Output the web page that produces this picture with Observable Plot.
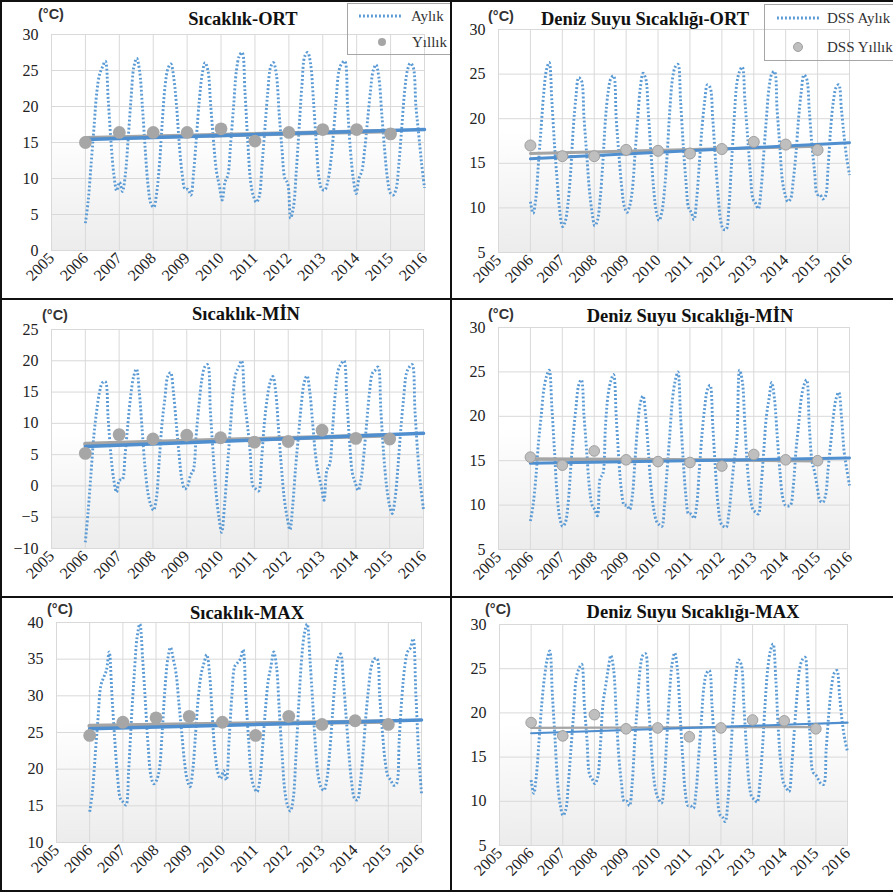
<!DOCTYPE html>
<html><head><meta charset="utf-8">
<script src="https://cdn.jsdelivr.net/npm/d3@7"></script>
<script src="https://cdn.jsdelivr.net/npm/@observablehq/plot@0.6"></script>
<style>
html,body{margin:0;padding:0;background:#fff;}
#root{position:relative;width:893px;height:894px;overflow:hidden;background:#fff;}
#root svg.panel{position:absolute;}
#overlay{position:absolute;left:0;top:0;pointer-events:none;}
</style></head><body><div id="root"></div>
<script>
// ---------------- DATA ----------------
const xTicks = [2005, 2006, 2007, 2008, 2009, 2010, 2011, 2012, 2013, 2014, 2015, 2016];
const years = [2006, 2007, 2008, 2009, 2010, 2011, 2012, 2013, 2014, 2015];
const trendStartEndMonthly = [2006, 2016];
const trendStartEndAnnual = [2006, 2015];

// Sıcaklık-ORT
const ortMonthly = [
  3.8, 7.0, 12.0, 17.0, 22.0, 24.5, 25.5, 26.3, 21.0, 15.0, 10.5, 8.3,
  9.5, 8.2, 10.5, 15.5, 21.0, 25.5, 26.7, 25.0, 20.0, 14.0, 9.0, 6.5,
  6.0, 8.0, 12.0, 18.0, 23.0, 25.3, 25.9, 24.0, 20.0, 14.5, 10.5, 8.5,
  8.5, 7.7, 11.0, 16.0, 21.0, 24.5, 26.1, 25.0, 20.0, 15.0, 11.0, 9.0,
  7.0, 9.5, 10.5, 15.0, 20.0, 25.0, 27.0, 27.5, 22.0, 15.0, 9.5, 7.5,
  6.7, 7.5, 12.0, 17.0, 22.0, 25.5, 26.1, 24.5, 19.0, 14.0, 10.0, 9.3,
  4.5, 6.0, 11.0, 17.0, 23.0, 27.0, 27.5, 26.0, 21.0, 15.0, 10.0, 8.5,
  8.4, 9.5, 12.0, 16.0, 21.0, 25.0, 26.0, 26.3, 20.0, 14.0, 10.0, 7.9,
  10.0, 11.0, 14.0, 18.0, 22.0, 25.0, 25.8, 24.0, 19.0, 14.0, 10.0, 8.0,
  7.7, 8.5, 12.0, 17.0, 22.0, 25.0, 26.0, 25.5, 20.0, 16.0, 12.0, 8.7
];
const ortAnnual = [15.0, 16.4, 16.4, 16.4, 16.9, 15.2, 16.4, 16.8, 16.8, 16.2];
const ortTrendMonthly = [15.4, 16.8];
const ortTrendAnnual = [15.6, 16.6];

// Deniz Suyu Sıcaklığı-ORT
const dssOrtMonthly = [
  10.7, 9.4, 11.0, 15.0, 19.0, 23.0, 25.5, 26.3, 22.0, 17.0, 13.0, 9.5,
  7.9, 8.5, 10.5, 14.0, 19.0, 22.5, 24.6, 24.3, 20.0, 16.0, 12.0, 9.5,
  8.0, 8.6, 11.0, 15.0, 20.0, 23.0, 24.5, 24.8, 20.0, 16.0, 12.5, 10.2,
  9.5, 10.2, 12.0, 16.0, 20.0, 23.5, 25.1, 24.5, 20.5, 16.0, 12.0, 9.5,
  8.6, 9.5, 12.0, 16.0, 21.0, 24.5, 25.8, 26.1, 22.0, 17.0, 13.0, 10.0,
  9.5, 8.7, 11.0, 15.0, 19.0, 22.0, 23.8, 23.5, 20.0, 15.5, 11.5, 8.5,
  7.6, 7.6, 10.0, 15.0, 20.0, 24.0, 25.3, 25.8, 22.0, 18.0, 14.0, 11.0,
  10.5, 9.9, 12.0, 16.0, 20.0, 23.5, 25.0, 25.3, 21.0, 17.0, 13.0, 11.5,
  10.7, 11.0, 13.0, 16.0, 20.0, 23.0, 24.9, 24.5, 21.0, 17.0, 14.0, 11.5,
  11.5, 11.0, 11.3, 14.5, 19.0, 22.0, 23.5, 23.8, 21.0, 18.0, 15.5, 13.7
];
const dssOrtAnnual = [17.0, 15.8, 15.8, 16.5, 16.4, 16.1, 16.6, 17.4, 17.1, 16.5];
const dssOrtTrendMonthly = [15.5, 17.3];
const dssOrtTrendAnnual = [16.1, 16.9];

// Sıcaklık-MİN
const minMonthly = [
  -9.0, -4.0, 2.0, 8.0, 12.0, 15.0, 16.5, 16.7, 11.0, 5.0, 1.0, -1.0,
  0.9, 1.0, 5.0, 10.0, 14.5, 17.5, 18.7, 15.0, 9.0, 3.0, -1.0, -3.0,
  -3.9, -2.0, 4.0, 10.0, 14.0, 17.5, 18.1, 15.0, 10.0, 5.0, 1.0, -0.5,
  0.0, 1.7, 2.5, 8.0, 13.0, 17.0, 19.0, 19.4, 12.0, 5.0, -1.0, -5.0,
  -7.4, -3.0, 3.0, 9.0, 15.0, 18.0, 19.0, 20.0, 14.0, 9.9, 5.5, 0.0,
  -0.5, -0.8, 4.0, 10.0, 14.0, 16.5, 17.5, 15.0, 9.0, 3.0, -2.0, -5.0,
  -7.0, -3.0, 3.0, 8.0, 13.0, 16.5, 17.6, 15.0, 10.0, 5.0, 2.0, 0.0,
  -2.3, 2.5, 3.5, 9.0, 15.0, 18.5, 19.5, 20.0, 14.0, 7.0, 2.0, 0.5,
  -0.7, 1.0, 5.0, 10.0, 15.0, 18.0, 18.5, 19.0, 12.0, 5.0, 0.0, -3.0,
  -4.4, -2.0, 3.0, 9.0, 14.0, 18.0, 19.0, 19.4, 12.0, 5.0, 0.0, -3.8
];
const minAnnual = [5.2, 8.2, 7.5, 8.1, 7.7, 7.0, 7.1, 8.9, 7.6, 7.5];
const minTrendMonthly = [6.3, 8.4];
const minTrendAnnual = [6.7, 8.1];

// Deniz Suyu Sıcaklığı-MİN
const dssMinMonthly = [
  8.2, 10.0, 13.0, 17.0, 20.0, 23.0, 24.5, 25.2, 21.0, 16.0, 11.0, 8.5,
  7.6, 8.0, 10.0, 14.0, 18.0, 21.0, 23.5, 24.1, 20.0, 16.0, 12.0, 10.0,
  9.5, 8.8, 13.0, 13.5, 19.0, 22.5, 24.0, 24.7, 20.0, 15.0, 11.5, 10.0,
  10.0, 9.5, 11.0, 15.0, 19.0, 21.5, 22.3, 20.0, 16.0, 12.0, 9.5, 8.2,
  7.8, 7.6, 10.0, 14.0, 18.0, 22.0, 24.0, 25.0, 20.0, 15.0, 11.0, 9.0,
  9.0, 8.5, 10.0, 14.0, 18.0, 21.0, 23.0, 23.5, 19.0, 14.0, 10.0, 8.0,
  7.6, 7.5, 9.0, 12.0, 15.0, 17.4, 25.2, 24.0, 19.0, 14.0, 11.0, 9.5,
  9.2, 9.0, 12.0, 16.0, 20.0, 22.0, 23.8, 22.0, 18.0, 14.0, 11.0, 10.0,
  9.9, 10.0, 12.0, 16.0, 19.0, 22.0, 23.5, 24.1, 19.0, 15.0, 13.7, 12.0,
  10.5, 10.3, 11.0, 14.0, 17.0, 20.0, 22.0, 22.7, 20.0, 16.0, 14.0, 12.2
];
const dssMinAnnual = [15.4, 14.5, 16.1, 15.1, 14.9, 14.8, 14.4, 15.7, 15.1, 15.0];
const dssMinTrendMonthly = [14.7, 15.3];
const dssMinTrendAnnual = [15.2, 15.0];

// Sıcaklık-MAX
const maxMonthly = [
  14.2, 17.0, 22.0, 27.0, 31.4, 32.5, 33.5, 36.0, 30.0, 24.0, 19.0, 16.0,
  15.5, 15.1, 20.0, 27.0, 33.0, 38.0, 39.8, 35.0, 29.0, 23.0, 19.0, 18.0,
  18.5, 20.0, 25.0, 31.0, 35.0, 36.6, 35.0, 33.0, 29.0, 25.0, 21.0, 18.5,
  17.6, 20.0, 25.0, 30.0, 33.0, 34.5, 35.6, 33.0, 27.0, 22.0, 19.5, 18.7,
  19.8, 18.5, 24.0, 30.0, 34.0, 34.5, 35.0, 36.3, 30.0, 24.0, 19.0, 17.5,
  16.9, 18.5, 23.0, 28.0, 32.0, 34.0, 36.0, 34.0, 28.0, 22.0, 17.0, 15.0,
  14.3, 16.0, 22.0, 29.0, 35.0, 38.5, 39.8, 35.0, 29.0, 23.0, 19.0, 17.5,
  17.1, 18.5, 22.0, 27.0, 32.0, 35.0, 35.7, 32.0, 27.0, 22.0, 18.0, 16.0,
  15.8, 18.0, 22.0, 27.0, 31.0, 34.0, 35.0, 35.1, 30.0, 25.0, 21.0, 19.0,
  18.5, 17.8, 18.0, 24.0, 30.0, 34.0, 36.0, 36.5, 37.8, 30.0, 22.0, 16.7
];
const maxAnnual = [24.6, 26.4, 27.0, 27.2, 26.4, 24.6, 27.2, 26.1, 26.6, 26.1];
const maxTrendMonthly = [25.5, 26.7];
const maxTrendAnnual = [25.9, 26.5];

// Deniz Suyu Sıcaklığı-MAX
const dssMaxMonthly = [
  12.4, 10.9, 13.0, 17.0, 21.0, 24.0, 26.0, 27.0, 22.0, 17.0, 12.0, 9.5,
  8.4, 9.0, 12.0, 16.0, 20.0, 24.0, 25.0, 25.5, 21.0, 17.0, 13.0, 12.5,
  12.0, 12.7, 16.0, 21.0, 23.0, 25.0, 26.5, 25.0, 20.0, 15.0, 12.0, 10.0,
  10.0, 9.5, 12.0, 17.0, 21.0, 25.0, 26.5, 26.7, 22.0, 17.0, 13.0, 11.0,
  10.2, 9.8, 12.0, 17.0, 22.0, 25.5, 26.8, 25.0, 20.0, 15.0, 11.0, 9.5,
  9.5, 9.2, 11.0, 15.0, 19.0, 23.0, 24.5, 24.8, 21.0, 16.0, 11.0, 8.5,
  8.2, 7.7, 10.0, 15.0, 20.0, 24.0, 26.0, 25.5, 21.0, 16.0, 12.0, 10.5,
  10.2, 9.9, 12.0, 16.0, 21.0, 25.0, 27.0, 27.8, 24.0, 18.0, 14.0, 12.0,
  11.5, 11.1, 13.9, 18.0, 22.0, 25.0, 26.0, 26.3, 22.0, 17.0, 13.3, 13.0,
  12.5, 12.0, 11.9, 16.0, 20.0, 23.0, 24.5, 24.8, 22.0, 19.0, 17.0, 15.6
];
const dssMaxAnnual = [18.9, 17.4, 19.8, 18.2, 18.3, 17.3, 18.3, 19.2, 19.1, 18.2];
const dssMaxTrendMonthly = [17.7, 18.9];
const dssMaxTrendAnnual = [18.3, 18.4];

const titles = ["Sıcaklık-ORT", "Deniz Suyu Sıcaklığı-ORT", "Sıcaklık-MİN", "Deniz Suyu Sıcaklığı-MİN", "Sıcaklık-MAX", "Deniz Suyu Sıcaklığı-MAX"];
const unitLabel = "(°C)";
const legendP1 = ["Aylık", "Yıllık"];
const legendP2 = ["DSS Aylık", "DSS Yıllık"];
const tempTicks = [0, 5, 10, 15, 20, 25, 30];
const seaTicks = [5, 10, 15, 20, 25, 30];
const minTicks = [-10, -5, 0, 5, 10, 15, 20, 25];
const maxTicks = [10, 15, 20, 25, 30, 35, 40];

// ---------------- LAYOUT ----------------
const BLUE_DOT = "#5b9bd5";
const BLUE_TREND = "#4f8fd0";
const GRAY = "#a5a5a5";
const DASH = "1.9,2.1";

const panels = [
  {monthly: ortMonthly, annual: ortAnnual, tm: ortTrendMonthly, ta: ortTrendAnnual, ticks: tempTicks,
   left: 0, top: 0, w: 450, h: 298, mt: 34, mr: 26, mb: 48, ml: 51, gw: 4.5, bw: 3.5, r: 6.4, dotFill: "#a6a6a6", dotStroke: "none"},
  {monthly: dssOrtMonthly, annual: dssOrtAnnual, tm: dssOrtTrendMonthly, ta: dssOrtTrendAnnual, ticks: seaTicks,
   left: 450, top: 0, w: 443, h: 298, mt: 29, mr: 44, mb: 46, ml: 48, gw: 3, bw: 3, r: 5.5, dotFill: "#bfbfbf", dotStroke: "#a0a0a0"},
  {monthly: minMonthly, annual: minAnnual, tm: minTrendMonthly, ta: minTrendAnnual, ticks: minTicks,
   left: 0, top: 298, w: 450, h: 298, mt: 31, mr: 27, mb: 48, ml: 51, gw: 4.5, bw: 3.5, r: 6.4, dotFill: "#a6a6a6", dotStroke: "none"},
  {monthly: dssMinMonthly, annual: dssMinAnnual, tm: dssMinTrendMonthly, ta: dssMinTrendAnnual, ticks: seaTicks,
   left: 450, top: 298, w: 443, h: 298, mt: 29, mr: 44, mb: 47, ml: 48, gw: 3.5, bw: 3, r: 5.3, dotFill: "#bfbfbf", dotStroke: "#a0a0a0"},
  {monthly: maxMonthly, annual: maxAnnual, tm: maxTrendMonthly, ta: maxTrendAnnual, ticks: maxTicks,
   left: 0, top: 596, w: 450, h: 298, mt: 26, mr: 29, mb: 52, ml: 56, gw: 4.5, bw: 3.5, r: 6.4, dotFill: "#a6a6a6", dotStroke: "none"},
  {monthly: dssMaxMonthly, annual: dssMaxAnnual, tm: dssMaxTrendMonthly, ta: dssMaxTrendAnnual, ticks: seaTicks,
   left: 450, top: 596, w: 443, h: 298, mt: 28, mr: 46, mb: 49, ml: 49, gw: 2.2, bw: 2.2, r: 5.3, dotFill: "#bfbfbf", dotStroke: "#a0a0a0"}
];

const root = document.getElementById("root");

panels.forEach((p, k) => {
  // monthly points: Jan 2006 at 2006, Dec 2015 at 2016
  const monthly = p.monthly.map((v, i) => ({x: 2006 + i * 10 / 119, y: v}));
  const annual = years.map((yr, i) => ({x: yr, y: p.annual[i]}));
  const tm = trendStartEndMonthly.map((x, i) => ({x, y: p.tm[i]}));
  const ta = trendStartEndAnnual.map((x, i) => ({x, y: p.ta[i]}));
  const gid = "bggrad" + k;
  const chart = Plot.plot({
    width: p.w, height: p.h,
    marginTop: p.mt, marginRight: p.mr, marginBottom: p.mb, marginLeft: p.ml,
    style: {fontFamily: '"Liberation Serif", "Times New Roman", serif', fontSize: "16px", color: "#222", background: "transparent", overflow: "visible"},
    x: {domain: [2005, 2016], ticks: xTicks, tickFormat: d => String(d), tickRotate: -45, tickSize: 0, tickPadding: 5, label: null},
    y: {domain: [p.ticks[0], p.ticks[p.ticks.length - 1]], ticks: p.ticks, tickSize: 0, tickPadding: 13, label: null},
    marks: [
      Plot.frame({fill: `url(#${gid})`}),
      Plot.gridX(xTicks, {stroke: "#d9d9d9", strokeOpacity: 1}),
      Plot.gridY(p.ticks, {stroke: "#d9d9d9", strokeOpacity: 1}),
      Plot.frame({stroke: "#d9d9d9"}),
      Plot.line(monthly, {x: "x", y: "y", curve: "catmull-rom", stroke: BLUE_DOT, strokeWidth: 2.9, strokeDasharray: DASH, strokeLinecap: "butt"}),
      Plot.line(ta, {x: "x", y: "y", stroke: GRAY, strokeWidth: p.gw}),
      Plot.line(tm, {x: "x", y: "y", stroke: BLUE_TREND, strokeWidth: p.bw}),
      Plot.dot(annual, {x: "x", y: "y", r: p.r, fill: p.dotFill, stroke: p.dotStroke, strokeWidth: 1})
    ]
  });
  chart.classList.add("panel");
  chart.style.left = p.left + "px";
  chart.style.top = p.top + "px";
  const defs = d3.select(chart).insert("defs", ":first-child");
  const g = defs.append("linearGradient").attr("id", gid).attr("x1", 0).attr("y1", 0).attr("x2", 0).attr("y2", 1);
  g.append("stop").attr("offset", "0%").attr("stop-color", "#ffffff");
  g.append("stop").attr("offset", "45%").attr("stop-color", "#ffffff");
  g.append("stop").attr("offset", "100%").attr("stop-color", "#ececec");
  root.appendChild(chart);
});

// ---------------- OVERLAY: titles, units, legends, borders ----------------
const ov = d3.select(root).append("svg").attr("id", "overlay").attr("width", 893).attr("height", 894);
const titlePos = [[243, 25], [645, 25], [246, 320], [690, 322], [247, 619], [693, 618]];
const unitPos = [[38, 19], [488, 21], [42, 320], [488, 319], [47, 614], [485, 614]];
titles.forEach((t, i) => {
  ov.append("text").attr("x", titlePos[i][0]).attr("y", titlePos[i][1]).attr("text-anchor", "middle")
    .attr("font-family", '"Liberation Serif", serif').attr("font-weight", "bold").attr("font-size", 18.5).attr("fill", "#111").text(t);
  ov.append("text").attr("x", unitPos[i][0]).attr("y", unitPos[i][1])
    .attr("font-family", '"Liberation Sans", Arial, sans-serif').attr("font-weight", "bold").attr("font-size", 14.5).attr("fill", "#333").text(unitLabel);
});

function legend(box, lineX, lineY, dotX, dotY, dotR, textX, tY1, tY2, labels, dFill, dStroke) {
  ov.append("rect").attr("x", box[0]).attr("y", box[1]).attr("width", box[2]).attr("height", box[3])
    .attr("fill", "none").attr("stroke", "#a6a6a6").attr("stroke-width", 1);
  ov.append("line").attr("x1", lineX[0]).attr("x2", lineX[1]).attr("y1", lineY).attr("y2", lineY)
    .attr("stroke", BLUE_DOT).attr("stroke-width", 2.9).attr("stroke-dasharray", DASH);
  ov.append("circle").attr("cx", dotX).attr("cy", dotY).attr("r", dotR).attr("fill", dFill).attr("stroke", dStroke);
  [tY1, tY2].forEach((ty, i) => ov.append("text").attr("x", textX[i]).attr("y", ty)
    .attr("font-family", '"Liberation Serif", serif').attr("font-size", 15).attr("fill", "#333").text(labels[i]));
}
legend([347.5, 3.5, 103, 51], [359, 402], 16, 382, 42, 4, [411, 412], 21, 47, legendP1, "#a6a6a6", "none");
legend([764.5, 4.5, 130, 56], [777, 821], 18, 798, 47, 4.5, [827, 827], 23, 52, legendP2, "#bfbfbf", "#a0a0a0");

const borders = [[0, 0, 893, 2], [0, 0, 2, 892], [450, 0, 2, 892], [0, 298, 893, 2], [0, 596, 893, 2], [0, 890, 893, 2]];
borders.forEach(b => ov.append("rect").attr("x", b[0]).attr("y", b[1]).attr("width", b[2]).attr("height", b[3]).attr("fill", "#111"));
</script></body></html>
